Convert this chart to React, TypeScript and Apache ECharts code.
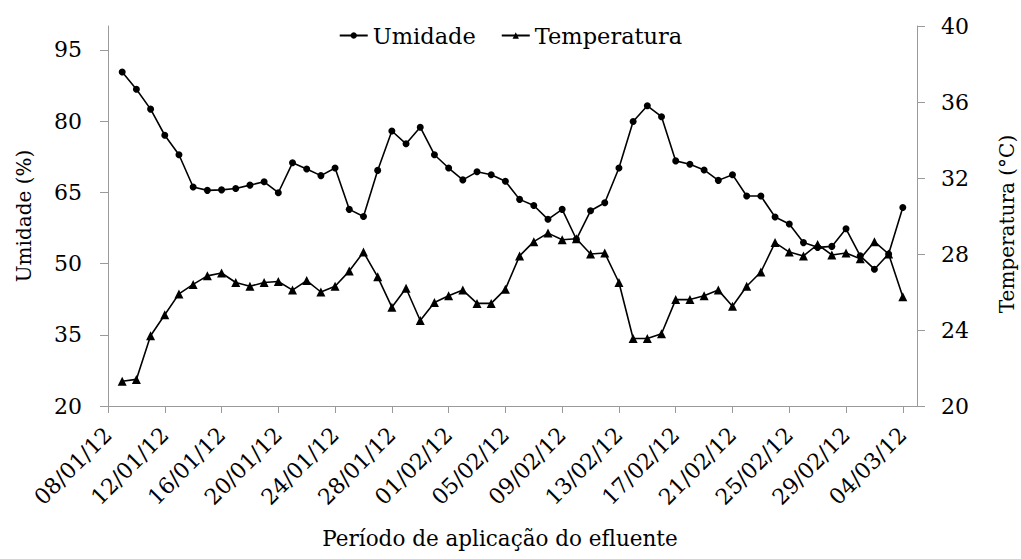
import React, { useEffect, useRef } from "react";
import * as echarts from "echarts";

const dates: string[] = [
  "08/01/12", "09/01/12", "10/01/12", "11/01/12", "12/01/12", "13/01/12", "14/01/12", "15/01/12",
  "16/01/12", "17/01/12", "18/01/12", "19/01/12", "20/01/12", "21/01/12", "22/01/12", "23/01/12",
  "24/01/12", "25/01/12", "26/01/12", "27/01/12", "28/01/12", "29/01/12", "30/01/12", "31/01/12",
  "01/02/12", "02/02/12", "03/02/12", "04/02/12", "05/02/12", "06/02/12", "07/02/12", "08/02/12",
  "09/02/12", "10/02/12", "11/02/12", "12/02/12", "13/02/12", "14/02/12", "15/02/12", "16/02/12",
  "17/02/12", "18/02/12", "19/02/12", "20/02/12", "21/02/12", "22/02/12", "23/02/12", "24/02/12",
  "25/02/12", "26/02/12", "27/02/12", "28/02/12", "29/02/12", "01/03/12", "02/03/12", "03/03/12",
  "04/03/12", "05/03/12",
];

// measured values from 09/01/12 to 04/03/12
const umidade: number[] = [
  90.3, 86.7, 82.5, 77.0, 72.9, 66.1, 65.4, 65.5, 65.8, 66.5,
  67.2, 64.9, 71.2, 69.9, 68.5, 70.1, 61.4, 59.9, 69.6, 77.9,
  75.2, 78.7, 72.9, 70.1, 67.6, 69.3, 68.7, 67.3, 63.5, 62.2,
  59.3, 61.4, 55.1, 61.1, 62.8, 70.1, 79.9, 83.2, 80.9, 71.6,
  70.9, 69.7, 67.5, 68.7, 64.2, 64.2, 59.8, 58.3, 54.4, 53.4,
  53.6, 57.3, 51.6, 48.8, 52.0, 61.8,
];

const temperatura: number[] = [
  21.3, 21.4, 23.7, 24.8, 25.9, 26.4, 26.85, 27.0, 26.5, 26.3,
  26.5, 26.55, 26.1, 26.6, 26.0, 26.3, 27.1, 28.1, 26.8, 25.2,
  26.2, 24.5, 25.45, 25.8, 26.1, 25.4, 25.4, 26.15, 27.9, 28.65,
  29.1, 28.75, 28.8, 28.0, 28.05, 26.5, 23.55, 23.55, 23.8, 25.6,
  25.6, 25.8, 26.1, 25.25, 26.3, 27.05, 28.6, 28.1, 27.9, 28.5,
  27.95, 28.05, 27.75, 28.65, 28.0, 25.75,
];

const leftTicks: number[] = [20, 35, 50, 65, 80, 95];
const rightTicks: number[] = [20, 24, 28, 32, 36, 40];

const FONT = "DejaVu Serif";
const AXIS_COLOR = "#9a9a9a";

export default function App() {
  const ref = useRef<HTMLDivElement>(null);

  useEffect(() => {
    if (!ref.current) return;
    const chart = echarts.init(ref.current, undefined, { renderer: "svg" });
    const pad = (arr: number[]) => [null, ...arr, null];

    chart.setOption({
      animation: false,
      backgroundColor: "#fff",
      textStyle: { fontFamily: FONT, color: "#000" },
      grid: { left: 108, right: 104, top: 26, bottom: 153, containLabel: false },
      legend: {
        top: 24,
        left: "center",
        padding: 0,
        itemGap: 25,
        itemWidth: 28,
        itemHeight: 8,
        textStyle: { fontFamily: FONT, fontSize: 22.5, color: "#000" },
        data: ["Umidade", "Temperatura"],
      },
      xAxis: {
        type: "category",
        data: dates,
        boundaryGap: false,
        axisLine: { lineStyle: { color: AXIS_COLOR, width: 1 } },
        axisTick: {
          show: true,
          length: 7,
          lineStyle: { color: AXIS_COLOR },
          interval: (i: number) => i % 4 === 0 && i <= 56,
        },
        axisLabel: {
          rotate: 45,
          margin: 25,
          fontSize: 22,
          fontFamily: FONT,
          color: "#000",
          interval: (i: number) => i % 4 === 0 && i <= 56,
        },
        splitLine: { show: false },
      },
      yAxis: [
        {
          type: "value",
          min: 20,
          max: 100,
          interval: 15,
          position: "left",
          axisLine: { show: true, lineStyle: { color: AXIS_COLOR } },
          axisTick: { show: true, length: 8, lineStyle: { color: AXIS_COLOR }, customValues: leftTicks },
          axisLabel: { fontSize: 22, fontFamily: FONT, color: "#000", margin: 26, customValues: leftTicks },
          splitLine: { show: false },
        },
        {
          type: "value",
          min: 20,
          max: 40,
          interval: 4,
          position: "right",
          axisLine: { show: true, lineStyle: { color: AXIS_COLOR } },
          axisTick: { show: true, length: 8, lineStyle: { color: AXIS_COLOR }, customValues: rightTicks },
          axisLabel: { fontSize: 22, fontFamily: FONT, color: "#000", margin: 24, customValues: rightTicks },
          splitLine: { show: false },
        },
      ],
      series: [
        {
          name: "Umidade",
          type: "line",
          yAxisIndex: 0,
          data: pad(umidade),
          symbol: "circle",
          symbolSize: 7,
          showSymbol: true,
          lineStyle: { color: "#000", width: 1.6 },
          itemStyle: { color: "#000" },
        },
        {
          name: "Temperatura",
          type: "line",
          yAxisIndex: 1,
          data: pad(temperatura),
          symbol: "triangle",
          symbolSize: 9,
          showSymbol: true,
          lineStyle: { color: "#000", width: 1.6 },
          itemStyle: { color: "#000" },
        },
      ],
      graphic: [
        {
          type: "text",
          x: 24,
          y: 216,
          rotation: Math.PI / 2,
          style: {
            text: "Umidade (%)",
            fontSize: 20,
            fontFamily: FONT,
            fill: "#000",
            align: "center",
            verticalAlign: "middle",
          },
        },
        {
          type: "text",
          x: 1007,
          y: 224,
          rotation: Math.PI / 2,
          style: {
            text: "Temperatura (°C)",
            fontSize: 20,
            fontFamily: FONT,
            fill: "#000",
            align: "center",
            verticalAlign: "middle",
          },
        },
        {
          type: "text",
          x: 500,
          y: 538,
          style: {
            text: "Período de aplicação do efluente",
            fontSize: 21.5,
            fontFamily: FONT,
            fill: "#000",
            align: "center",
            verticalAlign: "middle",
          },
        },
      ],
    });

    return () => chart.dispose();
  }, []);

  return (
    <div
      ref={ref}
      style={{ position: "fixed", left: 0, top: 0, width: 1021, height: 559, background: "#fff" }}
    />
  );
}
